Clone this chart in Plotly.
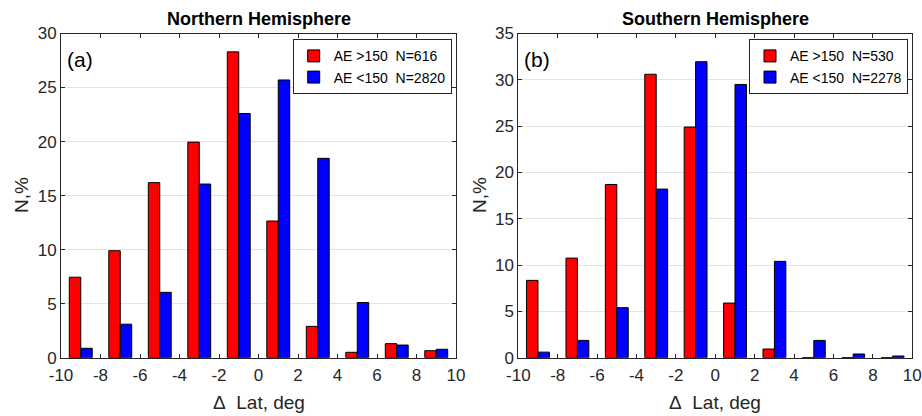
import plotly.graph_objects as go

centers = [-9, -7, -5, -3, -1, 1, 3, 5, 7, 9]

north_high = [7.45, 9.9, 16.2, 19.95, 28.3, 12.65, 2.9, 0.5, 1.3, 0.65]
north_low = [0.87, 3.1, 6.05, 16.07, 22.6, 25.7, 18.45, 5.1, 1.17, 0.78]

south_high = [8.35, 10.75, 18.7, 30.6, 24.9, 5.9, 0.94, 0.0, 0.0, 0.0]
south_low = [0.6, 1.87, 5.4, 18.2, 31.95, 29.5, 10.4, 1.87, 0.4, 0.18]

north_names = ["AE >150\u00a0 N=616", "AE <150\u00a0 N=2820"]
south_names = ["AE >150\u00a0 N=530", "AE <150\u00a0 N=2278"]

titles = ["Northern Hemisphere", "Southern Hemisphere"]
panel_labels = ["(a)", "(b)"]
xticks = [-10, -8, -6, -4, -2, 0, 2, 4, 6, 8, 10]
xtick_labels = ["-10", "-8", "-6", "-4", "-2", "0", "2", "4", "6", "8", "10"]
yticks_n = [0, 5, 10, 15, 20, 25, 30]
yticks_s = [0, 5, 10, 15, 20, 25, 30, 35]

RED = "#ff0000"
BLUE = "#0000ff"
AX = "#262626"
FONT = "Liberation Sans, Arial, sans-serif"
BW = 0.58

fig = go.Figure()

def add_pair(high, low, names, xa, ya, legend):
    fig.add_trace(go.Bar(x=centers, y=high, name=names[0], width=BW, offset=-BW,
                         marker=dict(color=RED, line=dict(color="black", width=1)),
                         xaxis=xa, yaxis=ya, legend=legend))
    fig.add_trace(go.Bar(x=centers, y=low, name=names[1], width=BW, offset=0,
                         marker=dict(color=BLUE, line=dict(color="black", width=1)),
                         xaxis=xa, yaxis=ya, legend=legend))

add_pair(north_high, north_low, north_names, "x", "y", "legend")
add_pair(south_high, south_low, south_names, "x2", "y2", "legend2")

xd1 = [61 / 922, 456 / 922]
xd2 = [518.3 / 922, 912.3 / 922]
yd = [1 - 357.7 / 416, 1 - 33.5 / 416]

xcommon = dict(range=[-10, 10], tickvals=xticks, ticktext=xtick_labels, ticks="inside", ticklen=4,
               tickcolor=AX, showline=True, linecolor=AX, linewidth=1, mirror="ticks", showgrid=False,
               zeroline=False, automargin=False, ticklabelstandoff=2,
               tickfont=dict(size=17, color=AX, family=FONT))
ycommon = dict(ticks="inside", ticklen=4, tickcolor=AX, showline=True, linecolor=AX,
               linewidth=1, mirror="ticks", showgrid=True, gridcolor="#e3e3e3", gridwidth=1,
               zeroline=False, automargin=False, tickfont=dict(size=17, color=AX, family=FONT))

legend_common = dict(bgcolor="white", bordercolor=AX, borderwidth=1,
                     font=dict(size=14, color="black", family=FONT),
                     xanchor="right", yanchor="top", tracegroupgap=0, itemwidth=30)

fig.update_layout(
    width=922, height=416,
    margin=dict(l=0, r=0, t=0, b=0, autoexpand=False),
    paper_bgcolor="white", plot_bgcolor="white",
    barmode="overlay",
    xaxis=dict(domain=xd1, anchor="y", **xcommon),
    yaxis=dict(domain=yd, anchor="x", range=[0, 30], tickvals=yticks_n, **ycommon),
    xaxis2=dict(domain=xd2, anchor="y2", **xcommon),
    yaxis2=dict(domain=yd, anchor="x2", range=[0, 35], tickvals=yticks_s, **ycommon),
    legend=dict(x=451.7 / 922, y=1 - 39.3 / 416, **legend_common),
    legend2=dict(x=(451.7 + 456.3) / 922, y=1 - 39.3 / 416, **legend_common),
    showlegend=True,
)

annotations = []
for i, (xd, t, lab) in enumerate(zip([xd1, xd2], titles, panel_labels)):
    cx = (xd[0] + xd[1]) / 2
    annotations.append(dict(text="<b>" + t + "</b>", x=cx, y=1 - 19 / 416, xref="paper", yref="paper",
                            showarrow=False, font=dict(size=18, color="black", family=FONT),
                            xanchor="center", yanchor="middle"))
    annotations.append(dict(text="\u0394\u00a0 Lat, deg", x=cx, y=1 - 402 / 416, xref="paper", yref="paper",
                            showarrow=False, font=dict(size=19, color=AX, family=FONT),
                            xanchor="center", yanchor="middle"))
    annotations.append(dict(text="N,%", x=(21 if i == 0 else 479) / 922, y=1 - 195 / 416,
                            xref="paper", yref="paper", textangle=-90, showarrow=False,
                            font=dict(size=19, color=AX, family=FONT),
                            xanchor="center", yanchor="middle"))
    annotations.append(dict(text=lab, x=(xd[0] * 922 + 4) / 922, y=1 - 60 / 416, xref="paper", yref="paper",
                            showarrow=False, font=dict(size=21, color="black", family=FONT),
                            xanchor="left", yanchor="middle"))
fig.update_layout(annotations=annotations)

fig.write_html("out.html", config={"displayModeBar": False},
               post_script="document.body.style.margin='0';document.body.style.overflow='hidden';")
